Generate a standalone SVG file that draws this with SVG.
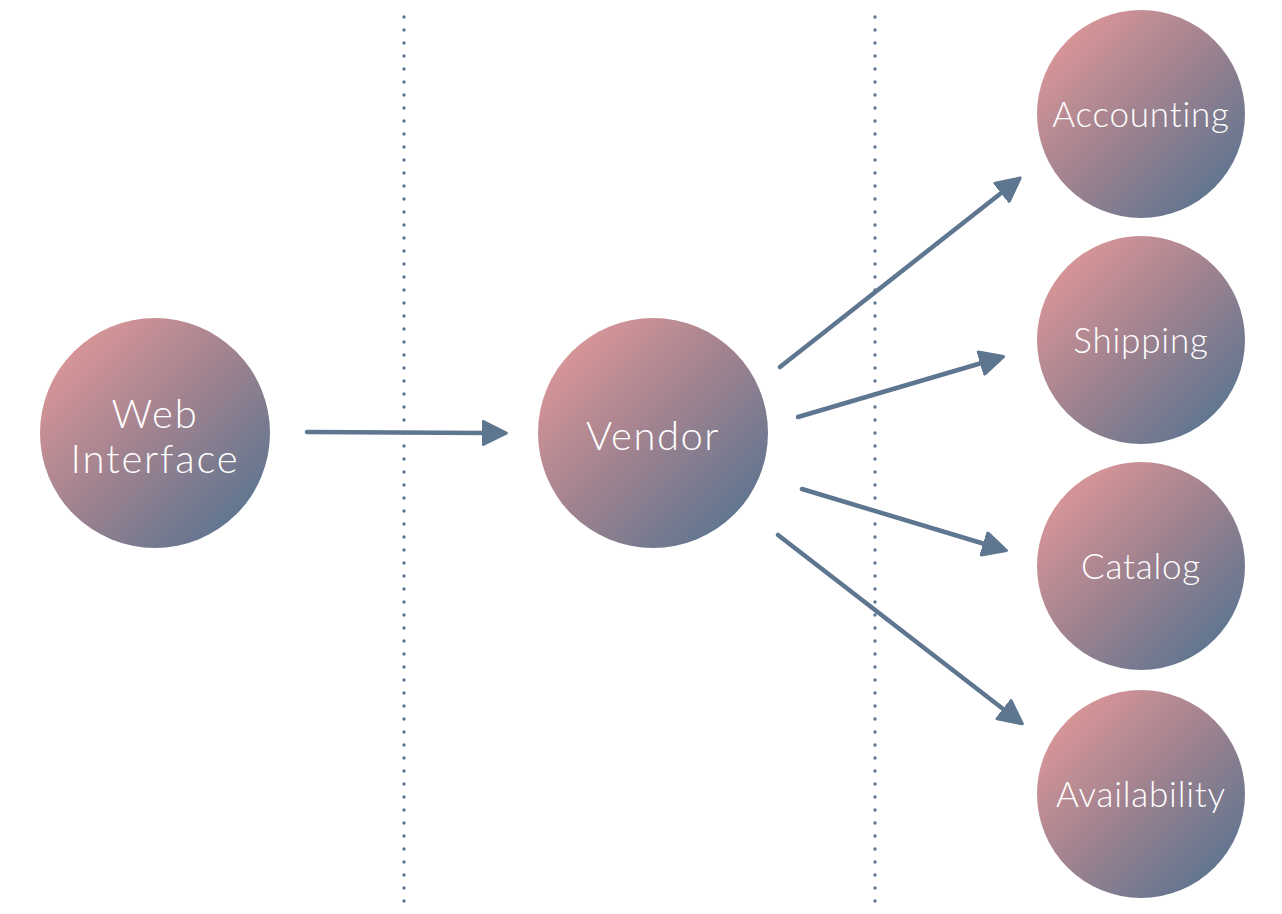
<svg xmlns="http://www.w3.org/2000/svg" width="1282" height="914" viewBox="0 0 1282 914">
<defs>
<linearGradient id="g" x1="0" y1="0" x2="1" y2="1">
<stop offset="0.12" stop-color="#da9698"/>
<stop offset="0.5" stop-color="#9e828f"/>
<stop offset="0.88" stop-color="#5e7590"/>
</linearGradient>
<marker id="ah" viewBox="0 0 10 10" refX="2" refY="5" markerWidth="26" markerHeight="26" markerUnits="userSpaceOnUse" orient="auto">
<path d="M0.6,0.6 L9.4,5 L0.6,9.4 z" fill="#5e7690" stroke="#5e7690" stroke-width="1.2" stroke-linejoin="round"/>
</marker>
</defs>
<style>
.node{fill:url(#g)}
.lbl{fill:#ffffff;font-family:"Lato","Open Sans",sans-serif;font-weight:300;text-anchor:middle;font-variant-ligatures:none}
.edge{fill:none;stroke:#5e7690;stroke-width:4.5;stroke-linecap:round;marker-end:url(#ah)}
.sep{stroke:#5e7690;stroke-width:3.4;stroke-linecap:round;stroke-dasharray:0 13}
</style>
<g id="separators">
<line class="sep" x1="404" y1="17" x2="404" y2="903"/>
<line class="sep" x1="875" y1="17" x2="875" y2="903"/>
</g>
<g id="web-interface">
<circle class="node" cx="155" cy="433" r="115"/>
<text class="lbl" x="155" y="428" font-size="40" letter-spacing="1.8">Web</text>
<text class="lbl" x="155" y="473" font-size="40" letter-spacing="1.8">Interface</text>
</g>
<g id="vendor">
<circle class="node" cx="653" cy="433" r="115"/>
<text class="lbl" x="653" y="450" font-size="40" letter-spacing="1.5">Vendor</text>
</g>
<g id="accounting">
<circle class="node" cx="1141" cy="114" r="104"/>
<text class="lbl" x="1141" y="127" font-size="35" letter-spacing="0.8">Accounting</text>
</g>
<g id="shipping">
<circle class="node" cx="1141" cy="340" r="104"/>
<text class="lbl" x="1141" y="353" font-size="35" letter-spacing="0.8">Shipping</text>
</g>
<g id="catalog">
<circle class="node" cx="1141" cy="566" r="104"/>
<text class="lbl" x="1141" y="579" font-size="35" letter-spacing="0.8">Catalog</text>
</g>
<g id="availability">
<circle class="node" cx="1141" cy="794" r="104"/>
<text class="lbl" x="1141" y="807" font-size="35" letter-spacing="0.8">Availability</text>
</g>
<g id="connectors">
<path class="edge" d="M307,432 L487,433"/>
<path class="edge" d="M780,367 L1005,190"/>
<path class="edge" d="M798,417 L985,362"/>
<path class="edge" d="M802,489 L988,545"/>
<path class="edge" d="M778,535 L1007,712"/>
</g>
</svg>
